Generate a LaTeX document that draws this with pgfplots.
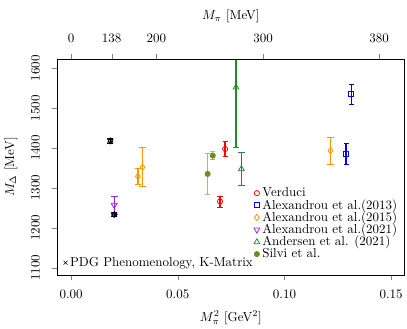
\documentclass[border=0pt]{standalone}
\usepackage{pgfplots}
\pgfplotsset{compat=1.18}
\definecolor{oliveg}{RGB}{107,142,35}
\definecolor{fgreen}{RGB}{34,139,34}
\definecolor{dorange}{RGB}{255,150,0}
\definecolor{vpurple}{RGB}{160,32,240}

\pgfplotsset{
  common/.style={scale only axis, width=267pt, height=166pt,
    xmin=-0.0063, xmax=0.156, ymin=1082, ymax=1622,
    tick align=outside},
}

\begin{document}
\begin{tikzpicture}
\begin{axis}[common,
  xtick={0,0.05,0.1,0.15}, xticklabels={0.00,0.05,0.10,0.15},
  xtick pos=bottom, ytick pos=left,
  ytick={1100,1200,1300,1400,1500,1600},
  yticklabel style={rotate=90, /pgf/number format/1000 sep={}},
  xticklabel shift=4pt, yticklabel shift=6pt,
  xlabel={$M_\pi^2$ [GeV$^2$]}, ylabel={$M_\Delta$ [MeV]},
  xlabel shift=2pt, ylabel shift=4pt,
  legend style={at={(1.0,0.43)}, anchor=north east, draw=none, fill=none,
    row sep=-3.5pt},
  legend cell align=left,
  every axis plot/.append style={line width=0.6pt},
  error bars/y dir=both, error bars/y explicit,
]

% Verduci
\addplot[red, only marks, mark=o, mark size=2pt,
  error bars/error bar style={draw=red, line width=1pt}] coordinates {
  (0.0722,1397.5) +- (0,19)
  (0.0698,1266) +- (0,14)
};
\addlegendentry{Verduci}

% Alexandrou et al. (2013)
\addplot[blue, only marks, mark=square, mark size=2pt,
  error bars/error bar style={draw=blue, line width=1pt}] coordinates {
  (0.1313,1536) +- (0,25)
  (0.1289,1385) +- (0,26)
};
\addlegendentry{Alexandrou et al.(2013)}

% Alexandrou et al. (2015)
\addplot[dorange, only marks, mark=diamond, mark size=2.5pt,
  error bars/error bar style={draw=dorange, line width=1pt}] coordinates {
  (0.0313,1329) +- (0,21)
  (0.0335,1352) +- (0,49)
  (0.1216,1393.5) +- (0,33)
};
\addlegendentry{Alexandrou et al.(2015)}

% Alexandrou et al. (2021)
\addplot[vpurple, only marks, mark=triangle, mark size=2.6pt,
  mark options={rotate=180}, error bars/error bar style={draw=vpurple, line width=1pt}] coordinates {
  (0.0202,1257) +- (0,22)
};
\addlegendentry{Alexandrou et al.(2021)}

% Andersen et al.
\addplot[fgreen, only marks, mark=triangle, mark size=2.6pt,
  error bars/error bar style={draw=fgreen, line width=1pt}] coordinates {
  (0.0773,1552) +- (0,151)
  (0.0798,1347.5) +- (0,41)
};
\addlegendentry{Andersen et al. (2021)}

% Silvi et al.
\addplot[oliveg, only marks, mark=*, mark size=2pt,
  error bars/error bar style={draw=oliveg, opacity=0.6, line width=1pt}] coordinates {
  (0.0640,1335) +- (0,51)
  (0.0664,1381) +- (0,10)
};
\addlegendentry{Silvi et al.}

% black stars at the physical point
\addplot[black, only marks, mark=triangle, mark size=2.3pt, forget plot,
  error bars/error bar style={draw=black, line width=0.9pt}] coordinates {
  (0.0184,1418) +- (0,6)
  (0.0202,1233) +- (0,5)
};
\addplot[black, only marks, mark=triangle, mark size=2.3pt,
  mark options={rotate=180}, forget plot] coordinates {
  (0.0184,1418)
  (0.0202,1233)
};
\end{axis}

\begin{axis}[common,
  axis x line*=top, axis y line=none,
  xtick={0,0.019044,0.04,0.09,0.1444},
  xticklabels={0,138,200,300,380},
  xticklabel shift=5pt,
  xlabel={$M_\pi$ [MeV]}, xlabel shift=2pt,
  legend style={at={(0.005,0.056)}, anchor=west, draw=none, fill=none},
]
\addlegendimage{black, only marks, mark=x, mark size=2.2pt}
\addlegendentry{PDG Phenomenology, K-Matrix}
\end{axis}
\path ([yshift=4pt]current bounding box.north);
\end{tikzpicture}
\end{document}
